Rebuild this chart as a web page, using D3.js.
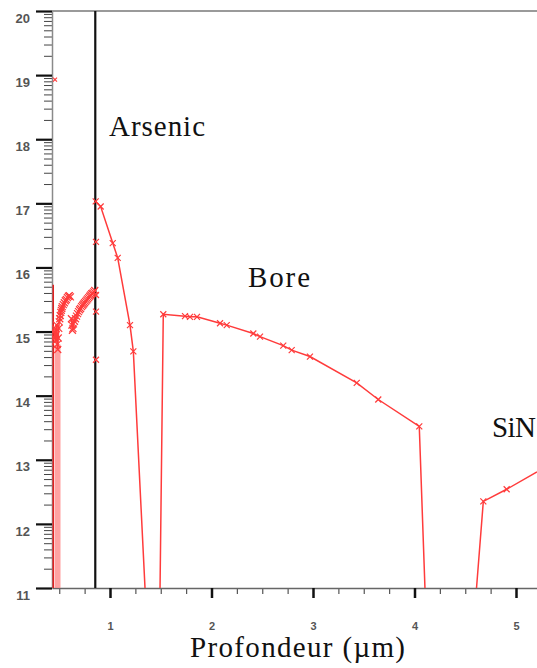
<!DOCTYPE html>
<meta charset="utf-8">
<style>
body { margin: 0; background: #fff; }
.red { fill: none; stroke: #ff3b3b; stroke-width: 1.5; }
.mark { stroke: #ff3b3b; stroke-width: 1.2; }
</style>
<body>
<script src="https://d3js.org/d3.v7.min.js"></script>
<script>

var W = 537, H = 668;
var margin = {top: 11, left: 52, bottom: 80};

// x in micrometres, y = log10 of concentration
var xTicks = [1, 2, 3, 4, 5];
var xMinor = [0.5, 0.75, 1.25, 1.5, 1.75, 2.25, 2.5, 2.75, 3.25, 3.5, 3.75, 4.25, 4.5, 4.75, 5.25];
var yTicks = [11, 12, 13, 14, 15, 16, 17, 18, 19, 20];

// thin red edge at the surface
var edge = [[0.441, 11], [0.441, 15.73]];
// wide pale stroke under the first arc
var band = [[0.483, 11], [0.483, 14.8]];
// dense markers near the surface (first arc then second arc)
var arc1 = [[0.45,15.00],[0.455,14.9],[0.46,15.05],[0.465,14.85],[0.47,14.95],[0.475,15.1],[0.48,14.8],[0.485,14.72],
  [0.49,14.9],[0.495,15.05],[0.50,15.15],[0.505,15.2],[0.51,15.25],[0.515,15.3],[0.52,15.33],[0.525,15.36],[0.53,15.39],
  [0.54,15.42],[0.55,15.45],[0.56,15.48],[0.57,15.5],[0.58,15.53],[0.59,15.55],[0.60,15.56],[0.61,15.54]];
var arc2 = [[0.62,15.2],[0.625,15.1],[0.63,15.02],[0.635,15.05],[0.64,15.12],[0.65,15.16],[0.66,15.2],[0.67,15.24],
  [0.68,15.28],[0.69,15.31],[0.70,15.34],[0.71,15.36],[0.72,15.39],[0.73,15.41],[0.74,15.43],[0.75,15.45],[0.76,15.47],
  [0.77,15.49],[0.78,15.51],[0.79,15.53],[0.80,15.55],[0.81,15.57],[0.82,15.59],[0.83,15.6],[0.84,15.62],[0.85,15.64]];
// stray points sitting on the black line and near the axis
var onLine = [[0.862, 16.40], [0.862, 15.57], [0.862, 15.31], [0.862, 14.56]];
var stray = [[0.458, 18.93]];

var arsenic = [[0.859,17.03],[0.908,16.95],[1.027,16.38],[1.076,16.15],[1.197,15.10],[1.230,14.69],[1.345,11]];
var bore = [[1.493,11],[1.525,15.27],[1.739,15.24],[1.788,15.23],[1.857,15.23],[2.084,15.13],[2.150,15.10],
  [2.412,14.97],[2.478,14.92],[2.707,14.78],[2.790,14.71],[2.970,14.61],[3.431,14.20],[3.643,13.94],[4.047,13.52],[4.103,11]];
var sin = [[4.611,11],[4.678,12.35],[4.908,12.54],[5.207,12.81]];

var junction = 0.855;  // black vertical line

var svg = d3.select("body").append("svg")
    .attr("width", W)
    .attr("height", H);

svg.append("rect").attr("width", W).attr("height", H).attr("fill", "#fff");

var x = d3.scaleLinear().domain([0.4286, 5.2069]).range([margin.left, W]);
var y = d3.scaleLinear().domain([11, 20]).range([H - margin.bottom, margin.top]);

svg.append("defs").append("clipPath").attr("id", "plot")
  .append("rect")
    .attr("x", margin.left).attr("y", margin.top)
    .attr("width", W - margin.left).attr("height", H - margin.bottom - margin.top);

// frame: top line
svg.append("line")
    .attr("x1", margin.left).attr("x2", W)
    .attr("y1", y(20)).attr("y2", y(20))
    .attr("stroke", "#9a9a9a").attr("stroke-width", 2);

// y axis minor ticks (log within each decade)
var yMinor = [];
yTicks.slice(0, -1).forEach(function(t) {
  for (var k = 2; k <= 9; k++) yMinor.push(t + Math.log10(k));
});

var yMin = svg.append("g")
    .attr("transform", "translate(" + margin.left + ",0)")
    .call(d3.axisLeft(y).tickValues(yMinor).tickSize(8).tickFormat(""));
yMin.select(".domain").remove();
yMin.selectAll("line").attr("stroke", "#444").attr("stroke-width", 1);

var yAx = svg.append("g")
    .attr("transform", "translate(" + margin.left + ",0)")
    .call(d3.axisLeft(y).tickValues(yTicks).tickSize(16).tickPadding(6).tickSizeOuter(0));
yAx.select(".domain").attr("stroke", "#8a8a8a").attr("stroke-width", 1.5);
yAx.selectAll(".tick line").attr("stroke", "#111").attr("stroke-width", 2.2);
yAx.selectAll("text")
    .attr("y", 7)
    .attr("font-family", "Liberation Sans, Arial, sans-serif")
    .attr("font-size", 13)
    .attr("font-weight", "bold")
    .attr("fill", "#555");

// x axis
var xMin = svg.append("g")
    .attr("transform", "translate(0," + y(11) + ")")
    .call(d3.axisBottom(x).tickValues(xMinor).tickSize(6).tickFormat(""));
xMin.select(".domain").remove();
xMin.selectAll("line").attr("stroke", "#555").attr("stroke-width", 1.2);

var xAx = svg.append("g")
    .attr("transform", "translate(0," + y(11) + ")")
    .call(d3.axisBottom(x).tickValues(xTicks).tickSize(10).tickSizeOuter(0).tickFormat(d3.format("d")));
xAx.select(".domain").attr("stroke", "#666").attr("stroke-width", 1.5);
xAx.selectAll(".tick line").attr("stroke", "#111").attr("stroke-width", 2.5);
xAx.selectAll("text")
    .attr("y", 34)
    .attr("font-family", "Liberation Sans, Arial, sans-serif")
    .attr("font-size", 11)
    .attr("font-weight", "bold")
    .attr("fill", "#555");

// black junction line
svg.append("line")
    .attr("x1", x(junction)).attr("x2", x(junction))
    .attr("y1", y(20)).attr("y2", y(11))
    .attr("stroke", "#111").attr("stroke-width", 2.2);

var line = d3.line().x(function(d) { return x(d[0]); }).y(function(d) { return y(d[1]); });
var plot = svg.append("g").attr("clip-path", "url(#plot)");

plot.append("path").datum(band).attr("d", line)
    .attr("fill", "none").attr("stroke", "#ff7a7a").attr("stroke-width", 6).attr("opacity", 0.7);
plot.append("path").datum(edge).attr("d", line).attr("class", "red").style("stroke", "#e02020");

[arsenic, bore, sin, arc1, arc2].forEach(function(s) {
  plot.append("path").datum(s).attr("class", "red").attr("d", line);
});

function crosses(data, s) {
  var g = plot.append("g");
  data.forEach(function(d) {
    var cx = x(d[0]), cy = y(d[1]);
    g.append("path").attr("class", "mark")
      .attr("d", "M" + (cx - s) + "," + (cy - s) + "L" + (cx + s) + "," + (cy + s) +
                 "M" + (cx - s) + "," + (cy + s) + "L" + (cx + s) + "," + (cy - s));
  });
}
crosses(arsenic.slice(0, -1), 3);
crosses(bore.slice(1, -1), 3);
crosses(sin.slice(1, 3), 3);
crosses(onLine, 3);
crosses(stray, 2);
crosses(arc1, 3.5);
crosses(arc2, 3.5);

// labels, Times-like serif
function label(tx, ty, size, str, len) {
  var t = svg.append("text")
      .attr("x", tx).attr("y", ty)
      .attr("font-family", "Liberation Serif")
      .attr("font-size", size)
      .attr("fill", "#111")
      .text(str);
  if (len) t.attr("textLength", len).attr("lengthAdjust", "spacing");
  return t;
}
label(109, 136, 29, "Arsenic", 96);
label(248, 287, 29, "Bore", 62);
label(492, 437, 29, "SiN", 44);
label(190, 657, 29, "Profondeur (µm)", 215);

</script>
</body>
